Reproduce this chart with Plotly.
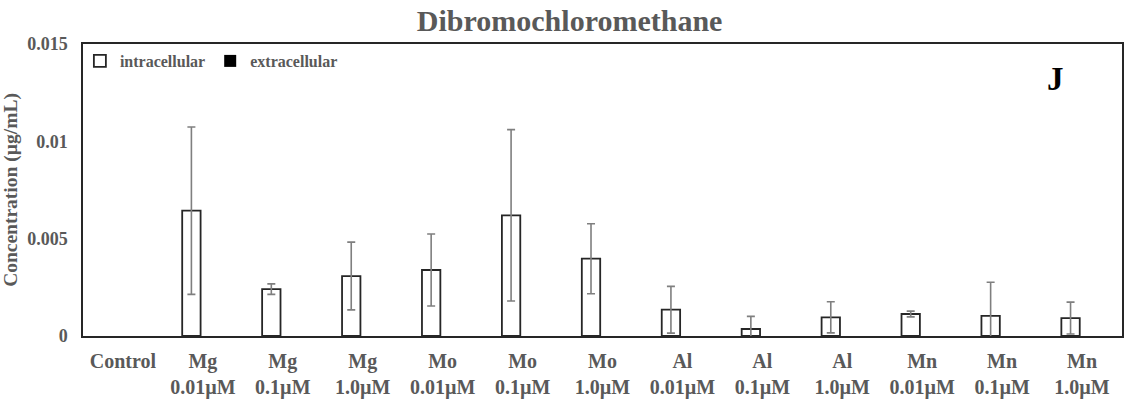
import plotly.graph_objects as go

categories = ["Control", "Mg<br>0.01µM", "Mg<br>0.1µM", "Mg<br>1.0µM", "Mo<br>0.01µM", "Mo<br>0.1µM",
              "Mo<br>1.0µM", "Al<br>0.01µM", "Al<br>0.1µM", "Al<br>1.0µM", "Mn<br>0.01µM", "Mn<br>0.1µM", "Mn<br>1.0µM"]
intracellular = [None, 0.00644, 0.00241, 0.00308, 0.00339, 0.0062, 0.00397, 0.00135, 0.00036, 0.00096, 0.00113, 0.00103, 0.00092]
intracellular_err = [0, 0.0043, 0.00027, 0.00174, 0.00185, 0.0044, 0.0018, 0.0012, 0.00065, 0.0008, 0.00015, 0.00173, 0.00082]
extracellular = [0] * 13
y_ticks = [0, 0.005, 0.01, 0.015]
y_tick_labels = ["0", "0.005", "0.01", "0.015"]

font_family = "Liberation Serif, Times New Roman, serif"
gray = "#595959"

fig = go.Figure()
fig.add_trace(go.Bar(
    x=categories, y=intracellular, name="<b>intracellular</b>",
    marker=dict(color="white", line=dict(color="#262626", width=1.8)),
    error_y=dict(type="data", array=intracellular_err, visible=True,
                 color="#7f7f7f", thickness=1.6, width=4),
))
fig.add_trace(go.Bar(
    x=categories, y=extracellular, name="<b>extracellular</b>",
    marker=dict(color="black", line=dict(color="black", width=0)),
))

fig.update_layout(
    width=1128, height=400,
    margin=dict(l=83, r=6, t=44, b=64),
    paper_bgcolor="white", plot_bgcolor="white",
    barmode="group", bargap=0.425, bargroupgap=0.2,
    font=dict(family=font_family, color=gray, size=17),
    title=dict(text="<b>Dibromochloromethane</b>", x=0.505, xanchor="center", y=0.975, yanchor="top",
               font=dict(size=30, color=gray, family=font_family)),
    legend=dict(orientation="h", x=-0.003, y=1.0, xanchor="left", yanchor="top",
                font=dict(size=16, color=gray, family=font_family), bgcolor="rgba(0,0,0,0)",
                itemwidth=30, tracegroupgap=0),
    showlegend=True,
)
fig.update_xaxes(
    showline=True, linecolor="#262626", linewidth=1.5, mirror=True,
    showgrid=False, ticks="", tickfont=dict(size=20, color=gray, family=font_family),
    tickprefix="<b>", ticksuffix="</b>", ticklabelstandoff=6, automargin=False,
)
fig.update_yaxes(
    range=[0, 0.015], tickvals=y_ticks, ticktext=["<b>" + t + "</b>" for t in y_tick_labels],
    showline=True, linecolor="#262626", linewidth=1.5, mirror=True,
    showgrid=False, ticks="", zeroline=False, ticklabelstandoff=10, automargin=False,
    tickfont=dict(size=18, color=gray, family=font_family),
    title=dict(text="<b>Concentration (µg/mL)</b>", font=dict(size=19.5, color=gray, family=font_family), standoff=8),
)
fig.add_annotation(x=0.936, y=0.88, xref="paper", yref="paper", text="<b>J</b>", showarrow=False,
                   font=dict(size=33, color="black", family=font_family), xanchor="center", yanchor="middle")

fig.write_html("out.html")
